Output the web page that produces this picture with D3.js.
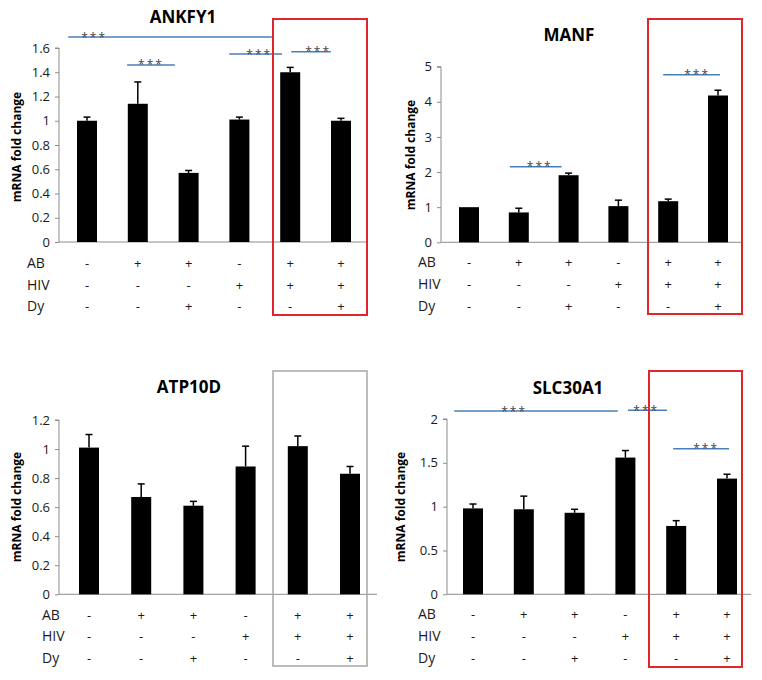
<!DOCTYPE html>
<html><head><meta charset="utf-8">
<script src="https://cdn.jsdelivr.net/npm/d3@7"></script>
<style>
html,body{margin:0;padding:0;background:#fff;}
svg{display:block;font-family:"Open Sans","Liberation Sans",sans-serif;}
</style></head>
<body>
<svg id="chart" width="762" height="680"></svg>
<script>
// ---- data ----
const groups = ["g1","g2","g3","g4","g5","g6"];
const rowNames = ["AB","HIV","Dy"];
const abRow  = ["-","+","+","-","+","+"];
const hivRow = ["-","-","-","+","+","+"];
const dyRow  = ["-","-","+","-","-","+"];

const ankfy1Values = [1.00, 1.14, 0.57, 1.01, 1.40, 1.00];
const ankfy1Errors = [0.03, 0.18, 0.02, 0.02, 0.04, 0.02];
const ankfy1Ticks  = [0,0.2,0.4,0.6,0.8,1,1.2,1.4,1.6];
const ankfy1TickLabels = ["0","0.2","0.4","0.6","0.8","1","1.2","1.4","1.6"];
const ankfy1Sig = [[-0.37,3.64,1.69,0.14],[0.79,1.73,1.46,1.26],[2.80,3.84,1.55,3.39],[4.02,4.80,1.57,4.55]];

const manfValues = [1.00, 0.85, 1.91, 1.03, 1.17, 4.18];
const manfErrors = [0.00, 0.12, 0.06, 0.17, 0.06, 0.15];
const manfTicks  = [0,1,2,3,4,5];
const manfTickLabels = ["0","1","2","3","4","5"];
const manfSig = [[0.82,1.86,2.15,1.42],[3.90,5.04,4.77,4.58]];

const atp10dValues = [1.01, 0.67, 0.61, 0.88, 1.02, 0.83];
const atp10dErrors = [0.09, 0.09, 0.03, 0.14, 0.07, 0.05];
const atp10dTicks  = [0,0.2,0.4,0.6,0.8,1,1.2];
const atp10dTickLabels = ["0","0.2","0.4","0.6","0.8","1","1.2"];
const atp10dSig = [];

const slc30a1Values = [0.98, 0.97, 0.93, 1.56, 0.78, 1.32];
const slc30a1Errors = [0.05, 0.15, 0.04, 0.08, 0.06, 0.05];
const slc30a1Ticks  = [0,0.5,1,1.5,2];
const slc30a1TickLabels = ["0","0.5","1","1.5","2"];
const slc30a1Sig = [[-0.37,2.85,2.09,0.81],[3.05,3.82,2.10,3.41],[3.94,5.04,1.66,4.59]];

// ---- layout ----
const panels = [
  {title:"ANKFY1", values:ankfy1Values, errors:ankfy1Errors, ticks:ankfy1Ticks, tickLabels:ankfy1TickLabels, sig:ankfy1Sig,
   axisX:59, axisRight:367, y0:242, yTop:48, c0:87, c5:341, titleX:183, titleY:23,
   box:{x0:273,x1:367,y0:19,y1:315,color:"#e0262c"}, rowY:[263,285,306], rowLabelX:27, ylabX:17, ylabY:147},
  {title:"MANF", values:manfValues, errors:manfErrors, ticks:manfTicks, tickLabels:manfTickLabels, sig:manfSig,
   axisX:441, axisRight:743, y0:242.3, yTop:66.7, c0:469, c5:718, titleX:569, titleY:41,
   box:{x0:648,x1:742,y0:19,y1:314,color:"#e0262c"}, rowY:[262,284,306], rowLabelX:418, ylabX:411, ylabY:155},
  {title:"ATP10D", values:atp10dValues, errors:atp10dErrors, ticks:atp10dTicks, tickLabels:atp10dTickLabels, sig:atp10dSig,
   axisX:59, axisRight:377, y0:594.3, yTop:420, c0:89, c5:350, titleX:189, titleY:393,
   box:{x0:273,x1:367,y0:371,y1:666,color:"#a6a6a6"}, rowY:[615,636,658], rowLabelX:42, ylabX:17, ylabY:507},
  {title:"SLC30A1", values:slc30a1Values, errors:slc30a1Errors, ticks:slc30a1Ticks, tickLabels:slc30a1TickLabels, sig:slc30a1Sig,
   axisX:447, axisRight:751, y0:594.3, yTop:419, c0:473, c5:727, titleX:568, titleY:394,
   box:{x0:649,x1:742,y0:371,y1:667,color:"#e0262c"}, rowY:[614,636,658], rowLabelX:418, ylabX:401, ylabY:507}
];

const svg = d3.select("#chart");
const rows = [abRow, hivRow, dyRow];
const barW = 20;

panels.forEach(p => {
  const g = svg.append("g");
  const step = (p.c5 - p.c0) / 5;
  const x = d3.scaleBand().domain(groups).range([p.c0 - step/2, p.c5 + step/2]).paddingInner(0).paddingOuter(0);
  const cx = i => x(groups[0]) + step/2 + i*step;
  const y = d3.scaleLinear().domain([0, p.ticks[p.ticks.length-1]]).range([p.y0, p.yTop]);

  // y axis
  const yAxis = d3.axisLeft(y).tickValues(p.ticks).tickSize(4).tickPadding(5)
      .tickFormat((d,i) => p.tickLabels[i]);
  const ya = g.append("g").attr("transform", `translate(${p.axisX},0)`).call(yAxis);
  ya.attr("font-family", null).attr("font-size", null);
  ya.select(".domain").attr("stroke","#8c8c8c").attr("d", `M-4,${y(p.ticks[p.ticks.length-1])}H0V${p.y0}`);
  ya.selectAll(".tick line").attr("stroke","#8c8c8c");
  ya.selectAll(".tick text").attr("font-size",13).attr("fill","#1a1a1a");

  // x axis line
  g.append("line").attr("x1",p.axisX).attr("x2",p.axisRight).attr("y1",y(0)).attr("y2",y(0))
    .attr("stroke","#8c8c8c").attr("stroke-width",1);

  // bars
  g.selectAll("rect.bar").data(p.values).join("rect").attr("class","bar")
    .attr("x",(d,i)=>x(groups[i]) + (step-barW)/2).attr("width",barW)
    .attr("y",d=>y(d)).attr("height",d=>y(0)-y(d)).attr("fill","#000");

  // error bars (upper only)
  p.values.forEach((v,i)=>{
    const e = p.errors[i];
    if (e <= 0) return;
    g.append("line").attr("x1",cx(i)).attr("x2",cx(i)).attr("y1",y(v)).attr("y2",y(v+e))
      .attr("stroke","#000").attr("stroke-width",1.5);
    g.append("line").attr("x1",cx(i)-3.5).attr("x2",cx(i)+3.5).attr("y1",y(v+e)).attr("y2",y(v+e))
      .attr("stroke","#000").attr("stroke-width",1.5);
  });

  // significance lines
  p.sig.forEach(s=>{
    g.append("line").attr("x1",cx(s[0])).attr("x2",cx(s[1])).attr("y1",y(s[2])).attr("y2",y(s[2]))
      .attr("stroke","#4a7ebb").attr("stroke-width",1.5);
    g.append("text").attr("x",cx(s[3])).attr("y",y(s[2])+4.5).attr("text-anchor","middle")
      .attr("font-size",12).attr("fill","#444").attr("letter-spacing",2).text("***");
  });

  // title
  g.append("text").attr("x",p.titleX).attr("y",p.titleY).attr("text-anchor","middle")
    .attr("font-size",17).attr("font-weight","bold").attr("fill","#000").text(p.title);

  // y label
  g.append("text").attr("transform",`translate(${p.ylabX},${p.ylabY}) rotate(-90)`)
    .attr("text-anchor","middle").attr("dy","0.35em").attr("font-size",12).attr("font-weight","bold")
    .attr("fill","#000").text("mRNA fold change");

  // condition rows
  rows.forEach((r,ri)=>{
    g.append("text").attr("x",p.rowLabelX).attr("y",p.rowY[ri]).attr("dy","0.35em")
      .attr("font-size",14).attr("fill","#1a1a1a").text(rowNames[ri]);
    r.forEach((s,i)=>{
      g.append("text").attr("x",cx(i)).attr("y",p.rowY[ri]).attr("dy","0.35em").attr("text-anchor","middle")
        .attr("font-size",13).attr("fill","#1a1a1a").text(s);
    });
  });

  // highlight box
  g.append("rect").attr("x",p.box.x0).attr("y",p.box.y0).attr("width",p.box.x1-p.box.x0).attr("height",p.box.y1-p.box.y0)
    .attr("fill","none").attr("stroke",p.box.color).attr("stroke-width",p.box.color==="#a6a6a6"?1.5:2);
});
</script>
</body></html>
